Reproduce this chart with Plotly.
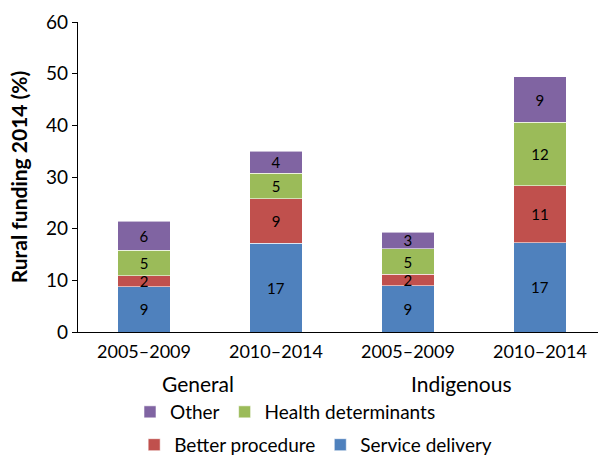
import plotly.graph_objects as go

periods = ["2005–2009", "2010–2014", "2005–2009", "2010–2014"]
groups = ["General", "Indigenous"]
service_delivery = [8.8, 17.15, 8.95, 17.25]
better_procedure = [2.05, 8.65, 2.2, 11.1]
health_determinants = [5.0, 4.95, 4.95, 12.2]
other = [5.55, 4.2, 3.25, 8.9]

FONT = "Lato"
x = [0, 1, 2, 3]

series = [
    ("Service delivery", service_delivery, "#4F81BD", "legend2"),
    ("Better procedure", better_procedure, "#C0504D", "legend2"),
    ("Health determinants", health_determinants, "#9BBB59", "legend"),
    ("Other", other, "#8064A2", "legend"),
]

fig = go.Figure()
for name, vals, color, leg in series:
    fig.add_trace(go.Bar(
        x=x, y=vals, name=name, legend=leg,
        marker=dict(color=color, line=dict(color="rgba(255,255,255,0.7)", width=0.8)),
        width=0.4,
        texttemplate="%{y:.0f}", textposition="inside", insidetextanchor="middle",
        textfont=dict(family=FONT, size=15, color="black"),
        textangle=0, hoverinfo="skip", cliponaxis=False,
    ))

fig.update_layout(
    barmode="stack",
    width=598, height=455,
    margin=dict(l=78, r=0, t=22, b=123, autoexpand=False),
    plot_bgcolor="white", paper_bgcolor="white",
    font=dict(family=FONT, size=18, color="black"),
    uniformtext=dict(mode="show", minsize=15),
    xaxis=dict(
        range=[-0.5, 3.44], tickmode="array", tickvals=x, ticktext=periods,
        showline=True, linecolor="black", linewidth=1.2, ticks="",
        showgrid=False, zeroline=False, tickfont=dict(family=FONT, size=18),
        ticklabelstandoff=3, fixedrange=True,
    ),
    yaxis=dict(
        range=[0, 60], dtick=10, showline=True, linecolor="black", linewidth=1.2,
        ticks="outside", ticklen=5, tickcolor="black", showgrid=False, zeroline=False,
        tickfont=dict(family=FONT, size=19),
        title=dict(text="<b>Rural funding 2014 (%)</b>", font=dict(family=FONT, size=21), standoff=12),
    ),
    legend=dict(
        orientation="h", x=0.1, xanchor="left", y=-0.258, yanchor="middle",
        traceorder="reversed", font=dict(family=FONT, size=19), bgcolor="rgba(0,0,0,0)",
    ),
    legend2=dict(
        orientation="h", x=0.108, xanchor="left", y=-0.364, yanchor="middle",
        traceorder="reversed", font=dict(family=FONT, size=19), bgcolor="rgba(0,0,0,0)",
    ),
    showlegend=True,
)

for gx, g in zip([0.5, 2.5], groups):
    fig.add_annotation(x=gx, y=-0.165, xref="x", yref="paper", text=g, showarrow=False,
                       xshift=-12, yanchor="middle", font=dict(family=FONT, size=21))

fig.write_html("out.html")
